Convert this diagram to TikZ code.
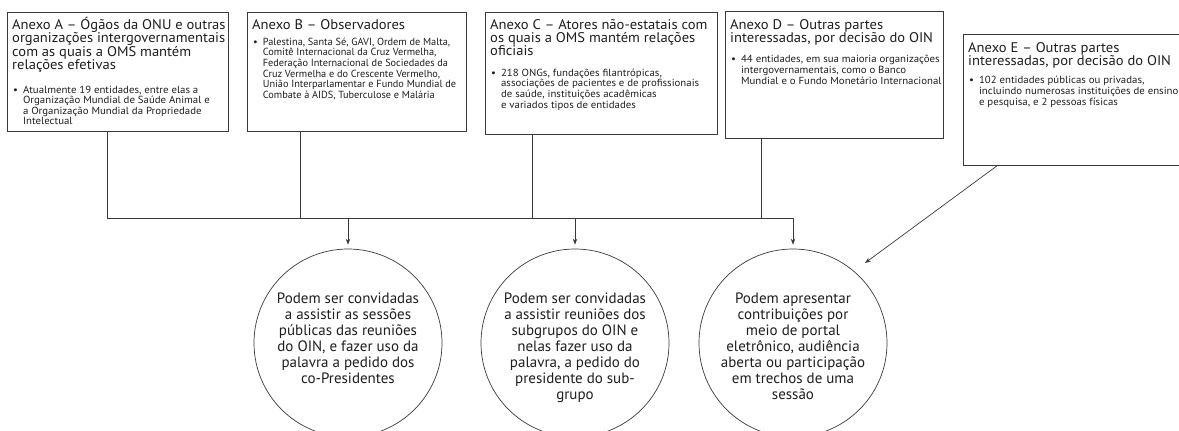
\documentclass[tikz,border=0pt]{standalone}
\usepackage{fontspec}
\setmainfont{PT Sans}
\newfontfamily\ttlfont{PT Sans}[FakeStretch=1.04]
\newfontfamily\itmfont{PT Sans}[FakeStretch=1.05]
\newfontfamily\itmBfont{PT Sans}[FakeStretch=1.0]
\newfontfamily\crcfont{PT Sans}
\usetikzlibrary{arrows.meta,calc}
\definecolor{ln}{HTML}{3A3A3A}
\definecolor{tx}{HTML}{1E1E1E}
\begin{document}
\begin{tikzpicture}[x=1pt,y=-1pt,
  box/.style={draw=ln,line width=0.8pt,inner sep=0pt,anchor=north west},
  ttl/.style={anchor=north west,inner sep=0pt,align=left,text=tx,font=\ttlfont\fontsize{14}{13}\selectfont},
  itm/.style={anchor=north west,inner sep=0pt,align=left,text=tx,font=\itmfont\fontsize{10.3}{10.6}\selectfont},
  circ/.style={circle,draw=ln,line width=0.7pt,minimum size=188pt,inner sep=0pt},
  ctext/.style={anchor=north,align=center,inner sep=0pt,text=tx,font=\crcfont\fontsize{15}{16}\selectfont},
  conn/.style={draw=ln,line width=0.7pt},
  arr/.style={conn,-{Stealth[length=6pt,width=4.5pt]}}]
\useasboundingbox (0,0) rectangle (1179,431);
\clip (0,0) rectangle (1179,431);
% boxes
\node[box,minimum width=221pt,minimum height=119pt] (boxA) at (7,12) {};
\node[box,minimum width=219pt,minimum height=119pt] (boxB) at (247,12) {};
\node[box,minimum width=232pt,minimum height=122pt] (boxC) at (485,12) {};
\node[box,minimum width=218pt,minimum height=127pt] (boxD) at (725,11) {};
\node[box,minimum width=222pt,minimum height=131pt] (boxE) at (963,34) {};
% titles
\node[ttl] (tA) at ([shift={(5,5)}]boxA.north west) {\rule{0pt}{12pt}Anexo A – Ógãos da ONU e outras\\organizações intergovernamentais\\com as quais a OMS mantém\\relações efetivas};
\node[ttl] (tB) at ([shift={(5,5)}]boxB.north west) {\rule{0pt}{12pt}Anexo B – Observadores};
\node[ttl] (tC) at ([shift={(5,5)}]boxC.north west) {\rule{0pt}{12pt}Anexo C – Atores não-estatais com\\os quais a OMS mantém relações\\oficiais};
\node[ttl] (tD) at ([shift={(5,6)}]boxD.north west) {\rule{0pt}{12pt}Anexo D – Outras partes\\interessadas, por decisão do OIN};
\node[ttl] (tE) at ([shift={(5,6)}]boxE.north west) {\rule{0pt}{12pt}Anexo E – Outras partes\\interessadas, por decisão do OIN};
% items
\node[itm] (iA) at ([shift={(1,13)}]tA.south west) {\begin{tabular}{@{}l@{\hspace{5pt}}l@{}}\textbullet & Atualmente 19 entidades, entre elas a\\ & Organização Mundial de Saúde Animal e\\ & a Organização Mundial da Propriedade\\ & Intelectual\end{tabular}};
\node[itm,font=\itmBfont\fontsize{10.3}{10.6}\selectfont] (iB) at ([shift={(1,8)}]tB.south west) {\begin{tabular}{@{}l@{\hspace{5pt}}l@{}}\textbullet & Palestina, Santa Sé, GAVI, Ordem de Malta,\\ & Comitê Internacional da Cruz Vermelha,\\ & Federação Internacional de Sociedades da\\ & Cruz Vermelha e do Crescente Vermelho,\\ & União Interparlamentar e Fundo Mundial de\\ & Combate à AIDS, Tuberculose e Malária\end{tabular}};
\node[itm] (iC) at ([shift={(1,13)}]tC.south west) {\begin{tabular}{@{}l@{\hspace{5pt}}l@{}}\textbullet & 218 ONGs, fundações filantrópicas,\\ & associações de pacientes e de profissionais\\ & de saúde, instituições acadêmicas\\ & e variados tipos de entidades\end{tabular}};
\node[itm] (iD) at ([shift={(1,10)}]tD.south west) {\begin{tabular}{@{}l@{\hspace{5pt}}l@{}}\textbullet & 44 entidades, em sua maioria organizações\\ & intergovernamentais, como o Banco\\ & Mundial e o Fundo Monetário Internacional\end{tabular}};
\node[itm] (iE) at ([shift={(1,8)}]tE.south west) {\begin{tabular}{@{}l@{\hspace{5pt}}l@{}}\textbullet & 102 entidades públicas ou privadas,\\ & incluindo numerosas instituições de ensino\\ & e pesquisa, e 2 pessoas físicas\end{tabular}};
% circles
\node[circ] (c1) at (348,343) {};
\node[circ] (c2) at (575,343) {};
\node[circ] (c3) at (793,343) {};
\node[ctext] (x1) at (348,291) {\rule{0pt}{12pt}Podem ser convidadas\\a assistir as sessões\\públicas das reuniões\\do OIN, e fazer uso da\\palavra a pedido dos\\co-Presidentes};
\node[ctext] (x2) at (575,291) {\rule{0pt}{12pt}Podem ser convidadas\\a assistir reuniões dos\\subgrupos do OIN e\\nelas fazer uso da\\palavra, a pedido do\\presidente do sub-\\grupo};
\node[ctext] (x3) at (793,291) {\rule{0pt}{12pt}Podem apresentar\\contribuições por\\meio de portal\\eletrônico, audiência\\aberta ou participação\\em trechos de uma\\sessão};
% bus
\coordinate (busL) at (107,218);
\coordinate (busR) at (793,218);
\draw[conn] (boxA.south -| busL) -- (busL) -- (busR);
\draw[conn] (boxB.south -| 300,0) -- (300,218);
\draw[conn] (boxC.south -| 532,0) -- (532,218);
\draw[conn] (boxD.south -| 761,0) -- (761,218);
\draw[arr,shorten >=4pt] (busL -| c1.north) -- (c1.north);
\draw[arr,shorten >=4pt] (busL -| c2.north) -- (c2.north);
\draw[arr,shorten >=4pt] (busR) -- (c3.north);
\coordinate (eEnd) at (865,263);
\draw[arr] ([xshift=34pt]boxE.south west) -- (eEnd);
\end{tikzpicture}
\end{document}
